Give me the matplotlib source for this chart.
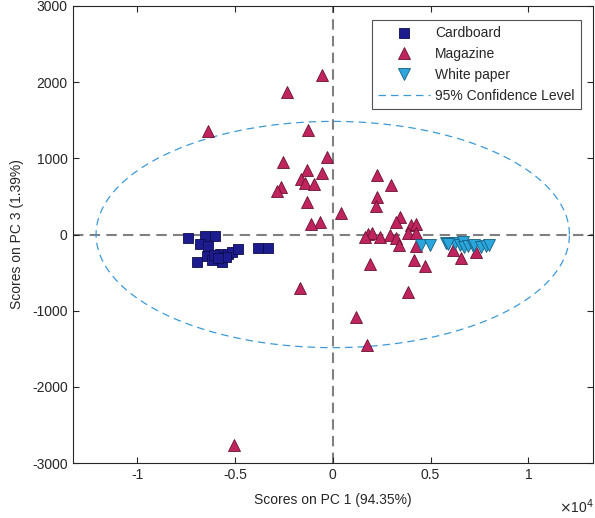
import numpy as np
import matplotlib
matplotlib.use("Agg")
import matplotlib.pyplot as plt
from matplotlib.ticker import FixedLocator, FuncFormatter

plt.rcParams['font.family'] = ['Liberation Sans', 'DejaVu Sans']
plt.rcParams['axes.unicode_minus'] = False

# PCA scores (PC1, PC3) for each paper class
cardboard_pc1 = [-7398, -6531, -6020, -6786, -6378, -6429, -6173, -6939, -5765,
                 -5663, -5357, -5153, -4847, -3827, -3316, -6071, -5459, -5867]
cardboard_pc3 = [-46, -20, -20, -125, -151, -282, -335, -361, -256,
                 -361, -256, -230, -190, -177, -177, -269, -295, -308]

magazine_pc1 = [-6378, -526, -2362, -1260, -2566, -291, -1311, -526, -1648, -1429,
                -954, -2653, -2842, -1311, 444, -663, -1087, -1684, 1209, 1750,
                -5051, 2260, 2995, 2260, 2194, 3418, 3214, 4015, 4235, 1801,
                2026, 1633, 2398, 2908, 3250, 3842, 4270, 3383, 4270, 4148,
                4694, 1888, 3842, 6138, 6566, 7332]
magazine_pc3 = [1358, 2093, 1866, 1371, 955, 1021, 846, 803, 724, 672,
                659, 627, 571, 430, 278, 168, 134, -706, -1087, -1450,
                -2762, 781, 650, 496, 374, 226, 168, 125, 138, 7,
                24, -29, -29, -7, -50, 16, 16, -138, -151, -335,
                -413, -387, -751, -203, -312, -226]

white_pc1 = [4526, 4949, 5801, 6224, 6480, 6648, 6735, 6903, 7158, 7245,
             7587, 7842, 8010, 5883]
white_pc3 = [-138, -138, -115, -115, -138, -94, -160, -151, -151, -138,
             -160, -151, -138, -125]

# 95% confidence ellipse semi-axes (PC1, PC3)
ellipse_semi_pc1 = 12100
ellipse_semi_pc3 = 1485

x_ticks = [-10000, -5000, 0, 5000, 10000]
x_tick_labels = ['-1', '-0.5', '0', '0.5', '1']
y_ticks = [-3000, -2000, -1000, 0, 1000, 2000, 3000]

fig = plt.figure(figsize=(5.95, 5.18), dpi=100)
ax = fig.add_axes([0.122, 0.106, 0.8745, 0.8825])

axis_col = '#262626'

ax.axhline(0, color='#808080', lw=1.5, ls=(0, (5, 3)), zorder=1)
ax.axvline(0, color='#808080', lw=1.5, ls=(0, (5, 3)), zorder=1)

ax.plot(cardboard_pc1, cardboard_pc3, ls='none', marker='s', ms=6.8,
        mfc='#1c1c8e', mec='#0c0c4a', mew=0.6, label='Cardboard', zorder=3)
ax.plot(magazine_pc1, magazine_pc3, ls='none', marker='^', ms=8,
        mfc='#c0245e', mec='#6a1030', mew=0.6, label='Magazine', zorder=3)
ax.plot(white_pc1, white_pc3, ls='none', marker='v', ms=8,
        mfc='#2aa6dc', mec='#155f82', mew=0.6, label='White paper', zorder=3)

t = np.linspace(0, 2 * np.pi, 400)
ax.plot(ellipse_semi_pc1 * np.cos(t), ellipse_semi_pc3 * np.sin(t),
        color='#3c9ad8', lw=0.9, ls=(0, (6, 4)), label='95% Confidence Level',
        zorder=2)

ax.set_xlim(-13300, 13300)
ax.set_ylim(-3000, 3000)
ax.xaxis.set_major_locator(FixedLocator(x_ticks))
ax.xaxis.set_major_formatter(FuncFormatter(
    lambda v, p: x_tick_labels[x_ticks.index(int(round(v)))] if int(round(v)) in x_ticks else ''))
ax.set_yticks(y_ticks)

ax.tick_params(direction='in', top=True, right=True, length=4, width=0.8,
               colors=axis_col, labelsize=10, labelcolor=axis_col)
for s in ax.spines.values():
    s.set_color(axis_col)
    s.set_linewidth(0.8)

ax.set_xlabel('Scores on PC 1 (94.35%)', fontsize=10, color=axis_col, labelpad=8)
ax.set_ylabel('Scores on PC 3 (1.39%)', fontsize=10, color=axis_col, labelpad=6)

fig.text(0.998, 0.004, r'$\times$10$^{4}$', ha='right', va='bottom',
         fontsize=10, color=axis_col)

leg = ax.legend(loc='upper right', bbox_to_anchor=(0.977, 0.969),
                borderaxespad=0, fontsize=10, frameon=True, fancybox=False,
                edgecolor=axis_col, handlelength=3.7, handletextpad=0.4,
                labelspacing=0.5, borderpad=0.45)
leg.get_frame().set_linewidth(0.8)
for txt in leg.get_texts():
    txt.set_color(axis_col)

fig.savefig('out.png', dpi=100)
